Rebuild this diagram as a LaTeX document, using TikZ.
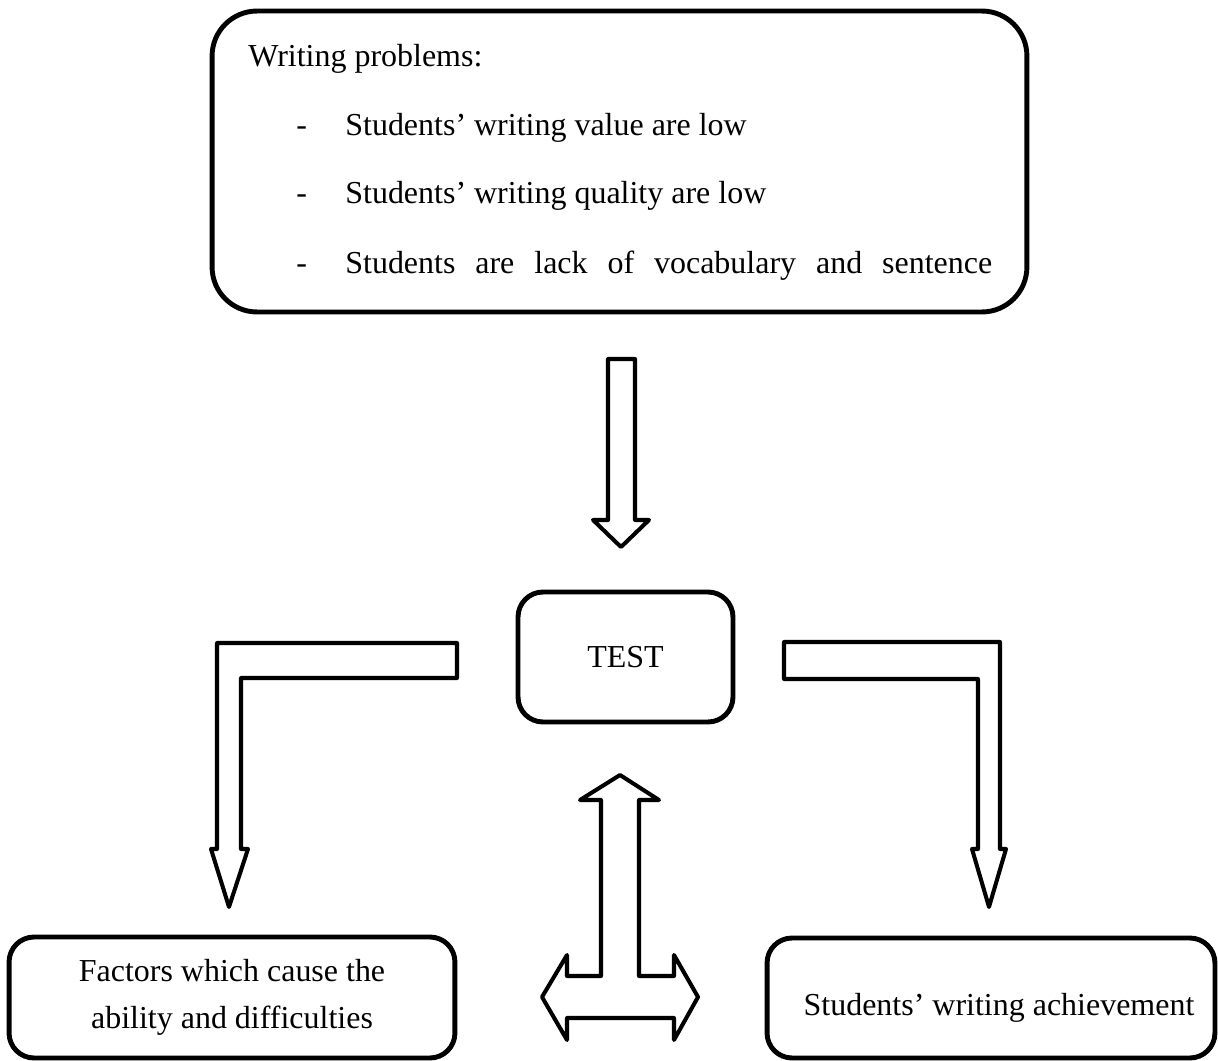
\documentclass[tikz,border=0pt]{standalone}
\usepackage{fontspec}
\setmainfont{Liberation Serif}
\usepackage{tikz}
\usetikzlibrary{positioning}

\begin{document}
\begin{tikzpicture}[x=0.02cm,y=-0.02cm,font=\fontsize{18.2}{26.7}\selectfont]
    \tikzset{box/.style={draw, line width=2.8pt, rounded corners=0.5cm, align=center, inner sep=0pt},
             blockarrow/.style={draw, line width=2.3pt, line join=round, fill=white},
             item/.style={anchor=base west, inner sep=0pt}}
    \useasboundingbox (0,0) rectangle (1218,1061);

    \node [box, rounded corners=0.9cm, minimum width=16.3cm, minimum height=6.02cm] (prob) at (619.5,161.5) {};
    \node [item] (title) at (248,67) {Writing problems:};
    \node [item] (dasha) at (296,135) {-};
    \node [item] (dashb) at (296,204) {-};
    \node [item] (dashc) at (296,274) {-};
    \node [item] (lowvalue) at (345,135) {Students’ writing value are low};
    \node [item] (lowquality) at (345,204) {Students’ writing quality are low};
    \node [item] (lackvocab) at (345,274) {\makebox[12.94cm][s]{Students are lack of vocabulary and sentence}};

    \node [box, minimum width=4.3cm, minimum height=2.6cm] (test) at (625.5,657) {TEST};

    \node [box, minimum width=8.92cm, minimum height=2.42cm] (factors) at (232,997.5) {Factors which cause the\\ ability and difficulties};
    \node [box, minimum width=8.96cm, minimum height=2.4cm] (achieve) at (991,998) {};
    \node (achievetext) at ([xshift=0.16cm, yshift=-0.2cm]achieve.center) {Students’ writing achievement};

    \draw [blockarrow] (608,359) -- (635,359) -- (635,520) -- (649,520) -- (621,547) -- (593,520) -- (608,520) -- cycle;
    \draw [blockarrow] (457,643) -- (457,678) -- (241,678) -- (241,849) -- (248,849) -- (229,907) -- (211,849) -- (217,849) -- (217,643) -- cycle;
    \draw [blockarrow] (784,642) -- (1000,642) -- (1000,849) -- (1006,849) -- (989,907) -- (972,849) -- (978,849) -- (978,679) -- (784,679) -- cycle;
    \draw [blockarrow] (620,775) -- (659,800) -- (639,800) -- (639,976) -- (674,976) -- (674,955) -- (698,997) -- (674,1040) -- (674,1018)
        -- (567,1018) -- (567,1040) -- (542,997) -- (567,955) -- (567,976) -- (601,976) -- (601,800) -- (580,800) -- cycle;
\end{tikzpicture}
\end{document}
